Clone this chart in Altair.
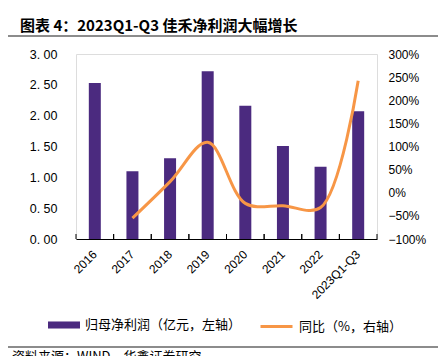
import altair as alt
import pandas as pd

years = ["2016", "2017", "2018", "2019", "2020", "2021", "2022", "2023Q1-Q3"]
profit = [2.53, 1.10, 1.31, 2.72, 2.16, 1.51, 1.17, 2.07]
yoy = [None, -0.55, 0.24, 1.09, -0.23, -0.28, -0.32, 2.42]

bar_name = "归母净利润（亿元，左轴）"
line_name = "同比（%，右轴）"
title_text = "图表 4：2023Q1-Q3 佳禾净利润大幅增长"
source_text = "资料来源：WIND，华鑫证券研究"

PURPLE = "#4B2A7F"
ORANGE = "#F79646"
GRAY = "#8C8C8C"
NUM_FONT = "Liberation Sans"
CJK_FONT = "Noto Sans CJK SC"

df = pd.DataFrame({"year": years, "profit": profit, "yoy": yoy,
                   "s1": bar_name, "s2": line_name})

xscale = alt.Scale(domain=years, paddingInner=0, paddingOuter=0)
xaxis = alt.Axis(title=None, labelAngle=-45, labelAlign="right", labelBaseline="middle",
                 labelFont=NUM_FONT, labelFontSize=12, labelColor="#000000",
                 labelPadding=13, tickSize=0, domainColor="#000000", domainWidth=1.2)

base = alt.Chart(df)

bars = base.mark_bar(size=12).encode(
    x=alt.X("year:N", scale=xscale, axis=xaxis, sort=years),
    y=alt.Y("profit:Q", scale=alt.Scale(domain=[0, 3], nice=False, zero=True),
            axis=alt.Axis(title=None, values=[0, 0.5, 1, 1.5, 2, 2.5, 3],
                          labelExpr="replace(format(datum.value, '.2f'), '.', '. ')",
                          grid=False, domain=False, ticks=False, labelPadding=19,
                          labelFont=NUM_FONT, labelFontSize=12.5, labelColor="#000000")),
    fill=alt.Fill("s1:N", scale=alt.Scale(domain=[bar_name], range=[PURPLE]),
                  legend=alt.Legend(title=None, orient="none", legendX=-28, legendY=255,
                                    symbolType="M-1,-0.22H1V0.22H-1Z", symbolSize=1024,
                                    symbolStrokeWidth=0, labelFont=CJK_FONT, labelFontSize=13,
                                    labelColor="#000000", labelOffset=5, padding=0)),
)

line = base.transform_filter("isValid(datum.yoy)").mark_line(
    interpolate="catmull-rom", strokeWidth=3).encode(
    x=alt.X("year:N", scale=xscale, sort=years),
    y=alt.Y("yoy:Q", scale=alt.Scale(domain=[-1, 3], nice=False, zero=False),
            axis=alt.Axis(title=None, orient="right", format=".0%",
                          values=[-1, -0.5, 0, 0.5, 1, 1.5, 2, 2.5, 3],
                          grid=False, domain=False, ticks=False, labelPadding=11,
                          labelFont=NUM_FONT, labelFontSize=12, labelColor="#000000")),
    stroke=alt.Stroke("s2:N", scale=alt.Scale(domain=[line_name], range=[ORANGE]),
                      legend=alt.Legend(title=None, orient="none", legendX=183, legendY=255,
                                        symbolType="stroke", symbolSize=1024,
                                        symbolStrokeWidth=3, labelFont=CJK_FONT,
                                        labelFontSize=13, labelColor="#000000",
                                        labelOffset=5, padding=0)),
)

ticks0 = base.mark_rule(color="#000000", strokeWidth=1).encode(
    x=alt.X("year:N", scale=xscale, sort=years, bandPosition=0),
    y=alt.value(180), y2=alt.value(185))
ticks1 = base.mark_rule(color="#000000", strokeWidth=1).encode(
    x=alt.X("year:N", scale=xscale, sort=years, bandPosition=1),
    y=alt.value(180), y2=alt.value(185))

deco = alt.Chart(pd.DataFrame({"t": [title_text]}))
title_mark = deco.mark_text(font=CJK_FONT, fontSize=15, fontWeight="bold", align="left",
                            baseline="alphabetic", color="#000000").encode(
    text="t:N", x=alt.value(-56), y=alt.value(-23))
top_rule = deco.mark_rule(color=GRAY, strokeWidth=2).encode(
    x=alt.value(-68), x2=alt.value(362), y=alt.value(-18))
bottom_rule = deco.mark_rule(color=GRAY, strokeWidth=2).encode(
    x=alt.value(-68), x2=alt.value(362), y=alt.value(293))
src = alt.Chart(pd.DataFrame({"t": [source_text]})).mark_text(
    font=CJK_FONT, fontSize=13, align="left", baseline="top", color="#000000").encode(
    text="t:N", x=alt.value(-64), y=alt.value(297))

chart = alt.layer(bars, line, ticks0, ticks1, title_mark, top_rule, bottom_rule, src).resolve_scale(
    y="independent"
).properties(
    width=301, height=185,
    autosize=alt.AutoSizeParams(type="none"),
    padding={"left": 76, "top": 54, "right": 69, "bottom": 117},
).configure_view(stroke=None).configure(background="#ffffff")

chart.save("out.html", embed_options={"renderer": "svg", "actions": False})
